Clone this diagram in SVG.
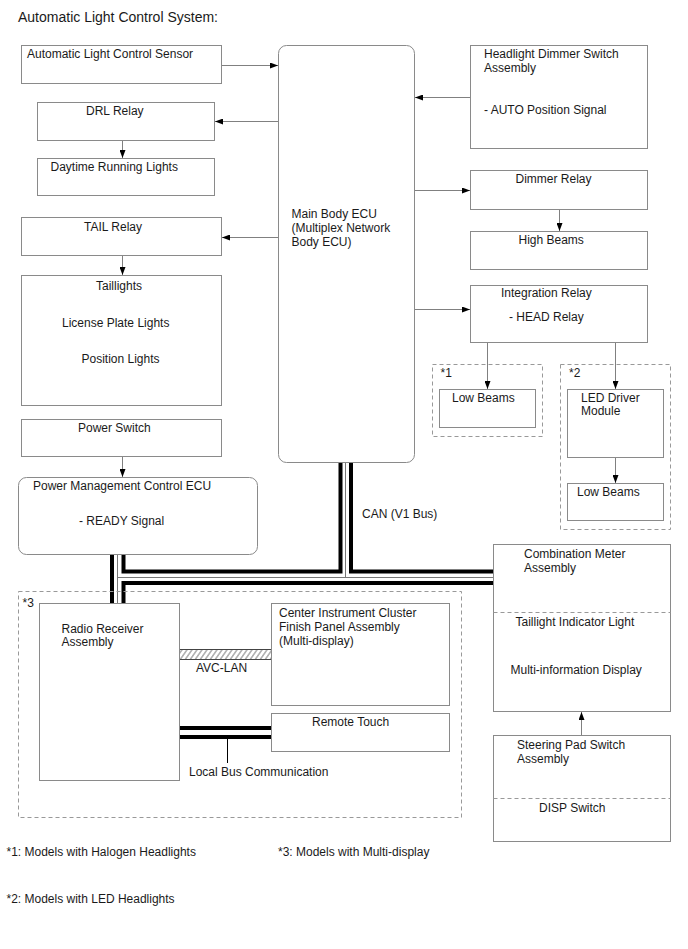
<svg xmlns="http://www.w3.org/2000/svg" width="688" height="949" viewBox="0 0 688 949">
<style>
text{font-family:"Liberation Sans",Arial,sans-serif;font-size:12px;fill:#1a1a1a}
.title{font-size:14px}
.box{fill:#fff;stroke:#8a8a8a;stroke-width:1}
.dash{fill:none;stroke:#999;stroke-width:1;stroke-dasharray:4,3}
.arr{fill:none;stroke:#808080;stroke-width:1;marker-end:url(#ah)}
.bus{fill:none;stroke:#000;stroke-width:4;stroke-linejoin:miter}
.thin{fill:none;stroke:#777;stroke-width:1}
</style>
<defs>
<marker id="ah" markerWidth="9" markerHeight="6" refX="8" refY="3" orient="auto" markerUnits="userSpaceOnUse">
<path d="M0,0 L8,3 L0,6 z" fill="#000"/>
</marker>
<pattern id="hatch" width="5" height="10" patternUnits="userSpaceOnUse" patternTransform="skewX(-35)">
<line x1="2" y1="0" x2="2" y2="10" stroke="#666" stroke-width="1"/>
</pattern>
</defs>
<rect width="688" height="949" fill="#fff"/>
<text class="title" x="18" y="22">Automatic Light Control System:</text>

<g id="connectors">
<path class="arr" d="M221.5,65.5 H278"/>
<path class="arr" d="M278.5,121.5 H215"/>
<path class="arr" d="M278.5,237.5 H222"/>
<path class="arr" d="M122.5,140.5 V158"/>
<path class="arr" d="M122.5,255.5 V275"/>
<path class="arr" d="M122.5,456.5 V477"/>
<path class="arr" d="M470.5,97.5 H415"/>
<path class="arr" d="M414.5,190.5 H470"/>
<path class="arr" d="M559.5,209.5 V231"/>
<path class="arr" d="M414.5,309.5 H470"/>
<path class="arr" d="M487.5,342.5 V389"/>
<path class="arr" d="M615.5,342.5 V389"/>
<path class="arr" d="M615.5,457.5 V483"/>
<path class="arr" d="M581.5,735.5 V712"/>
<!-- CAN bus -->
<path class="bus" d="M340.5,462.5 V571.5 H123.5 V554.5"/>
<path class="bus" d="M351,462.5 V571.5 H493.5"/>
<path class="bus" d="M123.5,603.5 V583 H493.5"/>
<path class="bus" d="M112,554.5 V603.5"/>
<path class="thin" d="M345.5,462.5 V577.5 M117.5,554.5 V603.5 M117.5,577.5 H493.5"/>
<!-- AVC-LAN -->
<rect x="179.5" y="649.5" width="92" height="10" fill="url(#hatch)"/>
<path d="M179.5,649.5 H271.5 M179.5,659.5 H271.5" stroke="#444" stroke-width="1.2" fill="none"/>
<!-- Local bus -->
<path d="M179.5,728 H271.5 M179.5,737 H271.5" stroke="#000" stroke-width="4" fill="none"/>
<path d="M227.5,739 V763" stroke="#000" stroke-width="1" fill="none"/>
</g>

<g id="sensor"><rect class="box" x="21.5" y="45.5" width="200" height="38"/><text x="27" y="58">Automatic Light Control Sensor</text></g>
<g id="drl-relay"><rect class="box" x="37.5" y="102.5" width="177" height="38"/><text x="86" y="115">DRL Relay</text></g>
<g id="drl-lights"><rect class="box" x="37.5" y="158.5" width="177" height="37"/><text x="50.5" y="170.5">Daytime Running Lights</text></g>
<g id="tail-relay"><rect class="box" x="21.5" y="217.5" width="200" height="38"/><text x="84" y="230.5">TAIL Relay</text></g>
<g id="taillights"><rect class="box" x="21.5" y="275.5" width="200" height="130"/>
<text x="96" y="290">Taillights</text><text x="62" y="326.5">License Plate Lights</text><text x="81.5" y="362.5">Position Lights</text></g>
<g id="power-switch"><rect class="box" x="21.5" y="419.5" width="200" height="37"/><text x="78" y="431.5">Power Switch</text></g>
<g id="pmc-ecu"><rect class="box" x="18.5" y="477.5" width="239" height="77" rx="8"/>
<text x="33" y="490">Power Management Control ECU</text><text x="79" y="524.5">- READY Signal</text></g>
<g id="main-ecu"><rect class="box" x="278.5" y="45.5" width="136" height="417" rx="8"/>
<text x="291.5" y="218">Main Body ECU</text><text x="291.5" y="232">(Multiplex Network</text><text x="291.5" y="245.5">Body ECU)</text></g>
<g id="hds"><rect class="box" x="470.5" y="45.5" width="177" height="103"/>
<text x="484" y="57.5">Headlight Dimmer Switch</text><text x="484" y="71.5">Assembly</text><text x="484" y="114">- AUTO Position Signal</text></g>
<g id="dimmer-relay"><rect class="box" x="470.5" y="170.5" width="177" height="39"/><text x="515.5" y="183">Dimmer Relay</text></g>
<g id="high-beams"><rect class="box" x="470.5" y="231.5" width="177" height="38"/><text x="518.5" y="243.5">High Beams</text></g>
<g id="integration-relay"><rect class="box" x="470.5" y="285.5" width="177" height="57"/>
<text x="501" y="297">Integration Relay</text><text x="509" y="321">- HEAD Relay</text></g>
<g id="group1"><rect class="dash" x="432.5" y="364.5" width="110" height="72"/><text x="440.5" y="376.5">*1</text></g>
<g id="low-beams-1"><rect class="box" x="439.5" y="389.5" width="96" height="38"/><text x="452" y="401.5">Low Beams</text></g>
<g id="group2"><rect class="dash" x="560.5" y="364.5" width="110" height="165"/><text x="569" y="376.5">*2</text></g>
<g id="led-driver"><rect class="box" x="567.5" y="389.5" width="96" height="68"/>
<text x="581" y="401.5">LED Driver</text><text x="581" y="415">Module</text></g>
<g id="low-beams-2"><rect class="box" x="567.5" y="483.5" width="96" height="37"/><text x="577" y="495.5">Low Beams</text></g>
<text x="362" y="517.5">CAN (V1 Bus)</text>
<g id="combination-meter"><rect class="box" x="493.5" y="544.5" width="177" height="167"/>
<path class="dash" d="M493.5,612.5 H670.5"/>
<text x="524" y="557.5">Combination Meter</text><text x="524" y="571.5">Assembly</text>
<text x="515.5" y="625.5">Taillight Indicator Light</text><text x="510.5" y="673.5">Multi-information Display</text></g>
<g id="steering-pad"><rect class="box" x="493.5" y="735.5" width="177" height="106"/>
<path class="dash" d="M493.5,798.5 H670.5"/>
<text x="517" y="748.5">Steering Pad Switch</text><text x="517" y="762.5">Assembly</text><text x="539" y="811.5">DISP Switch</text></g>
<g id="group3"><rect class="dash" x="18.5" y="591.5" width="443" height="226"/><text x="22.5" y="606.5">*3</text></g>
<g id="radio"><rect class="box" x="39.5" y="603.5" width="140" height="177"/>
<text x="61.5" y="632.5">Radio Receiver</text><text x="61.5" y="646">Assembly</text></g>
<g id="center-panel"><rect class="box" x="271.5" y="603.5" width="178" height="102"/>
<text x="279" y="616.5">Center Instrument Cluster</text><text x="279" y="630.5">Finish Panel Assembly</text><text x="279" y="645">(Multi-display)</text></g>
<g id="remote-touch"><rect class="box" x="271.5" y="713.5" width="178" height="38"/><text x="312" y="725.5">Remote Touch</text></g>
<text x="196" y="671.5">AVC-LAN</text>
<text x="189" y="776">Local Bus Communication</text>
<text x="6.5" y="856">*1: Models with Halogen Headlights</text>
<text x="278" y="856">*3: Models with Multi-display</text>
<text x="6.5" y="902.5">*2: Models with LED Headlights</text>
</svg>
